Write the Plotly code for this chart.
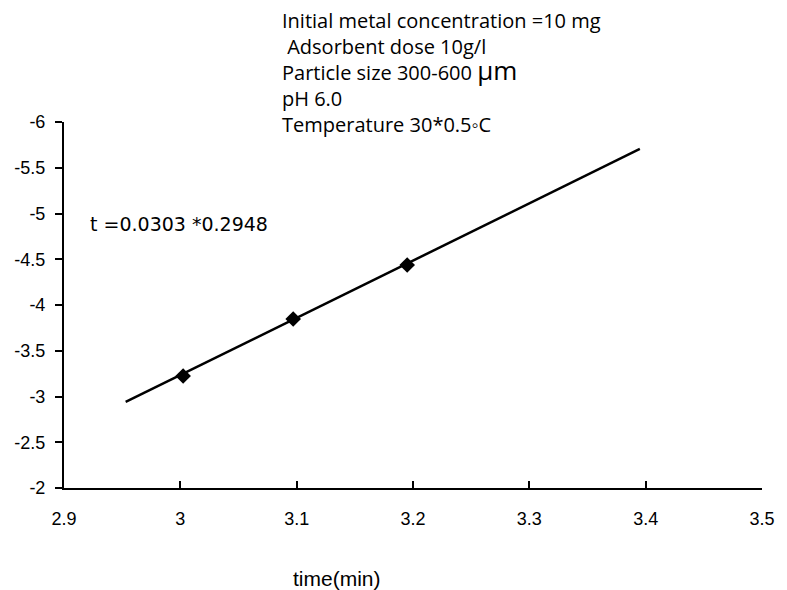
import plotly.graph_objects as go

# Measured points
time_x = [3.0024, 3.097, 3.195]
log_q = [-3.224, -3.847, -4.437]

# Fitted straight line (end points)
fit_x = [2.953, 3.395]
fit_y = [-2.94, -5.705]

x_ticks = [2.9, 3.0, 3.1, 3.2, 3.3, 3.4, 3.5]
x_ticktext = ["2.9", "3", "3.1", "3.2", "3.3", "3.4", "3.5"]
y_ticks = [-6, -5.5, -5, -4.5, -4, -3.5, -3, -2.5, -2]
y_ticktext = ["-6", "-5.5", "-5", "-4.5", "-4", "-3.5", "-3", "-2.5", "-2"]

conditions = [
    "Initial metal concentration =10 mg",
    " Adsorbent dose 10g/l",
    'Particle size 300-600 <span style="font-size:26px">\u00b5m</span>',
    "pH 6.0",
    "Temperature 30*0.5\u25e6C",
]
equation = "t =0.0303 *0.2948"
x_title = "time(min)"

fig = go.Figure()
fig.add_trace(go.Scatter(x=fit_x, y=fit_y, mode="lines",
                         line=dict(color="black", width=2.5),
                         showlegend=False, hoverinfo="skip"))
fig.add_trace(go.Scatter(x=time_x, y=log_q, mode="markers",
                         marker=dict(symbol="diamond", size=12, color="black"),
                         showlegend=False))

axis_font = dict(family="Liberation Sans, Arial, sans-serif", size=18, color="black")

fig.update_layout(
    width=787, height=590,
    margin=dict(l=64, r=18, t=122, b=102),
    paper_bgcolor="white", plot_bgcolor="white",
    xaxis=dict(range=[2.9, 3.5], tickvals=x_ticks, ticktext=x_ticktext,
               showgrid=False, zeroline=False, showline=True,
               linecolor="black", linewidth=2, ticks="inside", ticklen=7,
               tickwidth=1.5, tickcolor="black", tickfont=axis_font,
               ticklabelstandoff=13),
    yaxis=dict(range=[-2, -6], tickvals=y_ticks, ticktext=y_ticktext,
               showgrid=False, zeroline=False, showline=True,
               linecolor="black", linewidth=2, ticks="outside", ticklen=7,
               tickwidth=1.5, tickcolor="black", tickfont=axis_font,
               ticklabelstandoff=6),
)

# Experimental conditions, one block of left-aligned lines
fig.add_annotation(text="<br>".join(conditions), xref="paper", yref="paper",
                   x=(282 - 64) / 705, y=1 + (122 - 73) / 366,
                   xanchor="left", yanchor="middle", align="left",
                   showarrow=False,
                   font=dict(family="Open Sans, Noto Sans, sans-serif", size=20, color="black"))

fig.add_annotation(text=equation, xref="paper", yref="paper",
                   x=(88 - 64) / 705, y=1 - (224 - 122) / 366,
                   xanchor="left", yanchor="middle", showarrow=False,
                   font=dict(family="DejaVu Sans, sans-serif", size=19, color="black"))

fig.add_annotation(text=x_title, xref="paper", yref="paper",
                   x=(340 - 64) / 705, y=-(578 - 488) / 366,
                   xanchor="center", yanchor="middle", showarrow=False,
                   font=dict(family="Liberation Sans, Arial, sans-serif", size=21, color="black"))

fig.write_html("out.html")
